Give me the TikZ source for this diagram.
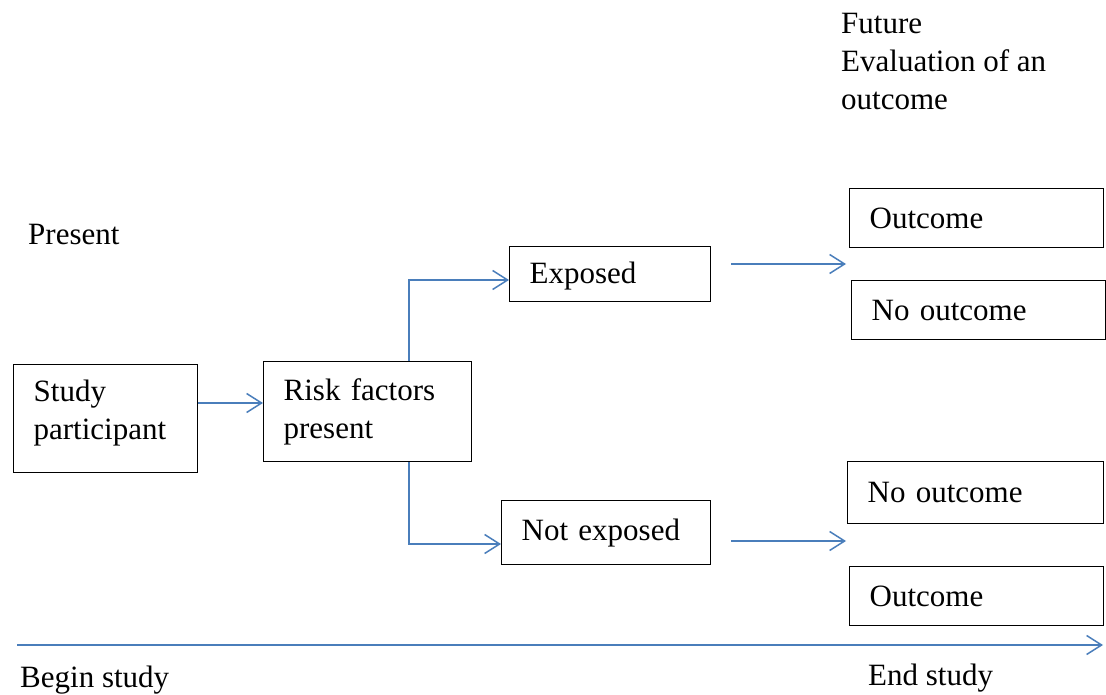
\documentclass[tikz,border=0pt]{standalone}
\usepackage{fontspec}
\setmainfont{Liberation Serif}
\usetikzlibrary{arrows.meta}
\definecolor{arrowblue}{HTML}{4A7EBB}
\begin{document}
\begin{tikzpicture}[x=1pt,y=-1pt,
  font=\fontsize{31}{38}\selectfont,
  box/.style={draw=black, line width=1.3pt, anchor=north west, align=left, inner xsep=20pt, inner ysep=0pt},
  arr/.style={draw=arrowblue, line width=1.5pt, -{Straight Barb[length=15pt,width=19pt,line width=1.5pt]}},
  lbl/.style={anchor=west, inner sep=0pt, align=left}]
\useasboundingbox (0,0) rectangle (1106,695);
\fill[white] (0,0) rectangle (1106,695);

% boxes
\node[box, minimum width=184pt, minimum height=108pt, text width=144pt, text depth=55pt] (study) at (13,364) {Study\\participant};
\node[box, minimum width=208pt, minimum height=100pt, text width=168pt] (risk) at (263,361) {Risk factors\\present};
\node[box, minimum width=201pt, minimum height=55pt, text width=161pt, text depth=3pt] (exposed) at (509,246) {Exposed};
\node[box, minimum width=209pt, minimum height=64pt, text width=169pt] (notexp) at (501,500) {Not exposed};
\node[box, minimum width=254pt, minimum height=59pt, text width=214pt] (out1) at (849,188) {Outcome};
\node[box, minimum width=254pt, minimum height=59pt, text width=214pt] (noout1) at (851,280) {No outcome};
\node[box, minimum width=256pt, minimum height=62pt, text width=216pt] (noout2) at (847,461) {No outcome};
\node[box, minimum width=254pt, minimum height=59pt, text width=214pt] (out2) at (849,566) {Outcome};

% free labels
\node[lbl] (future) at (841,62) {Future\\Evaluation of an\\outcome};
\node[lbl] (present) at (28,235) {Present};
\node[lbl] (begin) at (20,680) {Begin study};
\node[lbl] (end) at (868,678) {End study};

% helper coordinates
\coordinate (ay) at (0,403);
\coordinate (bx) at (409,0);
\coordinate (ey) at (0,280);
\coordinate (ny) at (0,544);
\coordinate (e1) at (846,264);
\coordinate (e0) at (731,264);
\coordinate (n1) at (846,541);
\coordinate (n0) at (731,541);
\coordinate (tl0) at (17,645);
\coordinate (tl1) at (1103,645);

% connectors
\draw[arr] (study.east |- ay) -- (risk.west |- ay);
\draw[arr] (bx |- risk.north) |- (exposed.west |- ey);
\draw[arr] (bx |- risk.south) |- (notexp.west |- ny);
\draw[arr] (e0) -- (e1);
\draw[arr] (n0) -- (n1);
\draw[arr] (tl0) -- (tl1);
\end{tikzpicture}
\end{document}
